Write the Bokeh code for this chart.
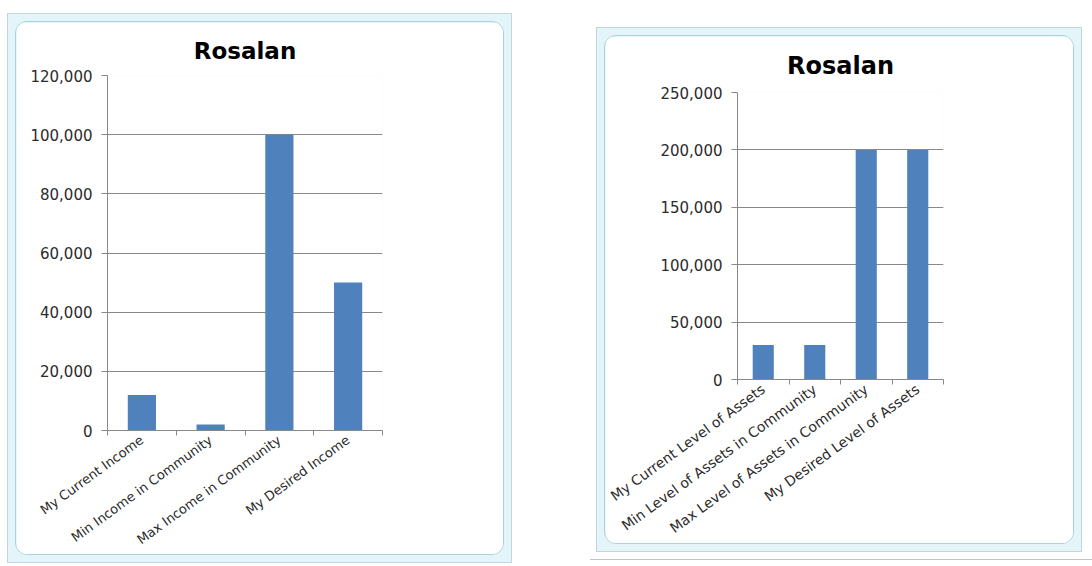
from bokeh.plotting import figure
from bokeh.models import (Range1d, FixedTicker, NumeralTickFormatter, Spacer,
                          ColumnDataSource, LinearAxis, Title)
from bokeh.layouts import row, column
from bokeh.embed import file_html
from bokeh.resources import INLINE

# ---- data ----
title_text = "Rosalan"
income_categories = ["My Current Income", "Min Income in Community",
                     "Max Income in Community", "My Desired Income"]
income_values = [12000, 2000, 100000, 50000]
income_ticks = [0, 20000, 40000, 60000, 80000, 100000, 120000]

asset_categories = ["My Current Level of Assets", "Min Level of Assets in Community",
                    "Max Level of Assets in Community", "My Desired Level of Assets"]
asset_values = [30000, 30000, 200000, 200000]
asset_ticks = [0, 50000, 100000, 150000, 200000, 250000]

BAR = "#4f81bd"
GRID = "#888888"
TXT = "#2b2b2b"


def make_chart(cats, vals, ticks, w, h, bl, br, bt, bb, title_size, title_standoff,
               cat_size, cat_standoff):
    n = len(cats)
    centers = [i + 0.5 for i in range(n)]
    bounds = list(range(n + 1))
    p = figure(x_range=Range1d(0, n), y_range=Range1d(ticks[0], ticks[-1]),
               width=w, height=h, output_backend="svg", toolbar_location=None,
               x_axis_location=None, y_axis_location="left", title=None,
               min_border_left=bl, min_border_right=br, min_border_top=bt, min_border_bottom=bb)
    p.background_fill_color = "white"
    p.border_fill_color = "white"
    p.outline_line_color = None

    ttl = Title(text=title_text, align="center", text_font="DejaVu Sans",
                text_font_style="bold", text_font_size=title_size, text_color="black",
                standoff=title_standoff)
    p.add_layout(ttl, "above")

    src = ColumnDataSource(dict(x=centers, cat=cats, val=vals))
    p.vbar(x="x", top="val", width=0.41, source=src, fill_color=BAR, line_color=None)

    # y axis
    ya = p.yaxis[0]
    ya.ticker = FixedTicker(ticks=ticks)
    ya.formatter = NumeralTickFormatter(format="0,0")
    ya.major_tick_in = 0
    ya.major_tick_out = 6
    ya.minor_tick_in = 0
    ya.minor_tick_out = 0
    ya.axis_line_color = GRID
    ya.major_tick_line_color = GRID
    ya.major_label_text_font = "DejaVu Sans"
    ya.major_label_text_font_size = "15px"
    ya.major_label_text_color = TXT
    ya.major_label_standoff = 9

    p.ygrid.ticker = FixedTicker(ticks=ticks)
    p.ygrid.grid_line_color = GRID
    p.xgrid.grid_line_color = None

    # category axis: labels at bar centres, tick marks at category boundaries
    ca = LinearAxis(ticker=FixedTicker(ticks=centers, minor_ticks=bounds),
                    major_label_overrides={c: name for c, name in zip(centers, cats)},
                    axis_line_color=GRID, major_tick_line_color=None,
                    major_tick_in=0, major_tick_out=0,
                    minor_tick_line_color=GRID, minor_tick_in=0, minor_tick_out=5,
                    major_label_orientation=0.63,
                    major_label_text_font="DejaVu Sans",
                    major_label_text_font_size=cat_size,
                    major_label_text_color=TXT,
                    major_label_standoff=cat_standoff)
    p.add_layout(ca, "below")

    p.styles = {"border": "1px solid #a9d3dc", "border-radius": "12px", "overflow": "hidden"}
    return p


p1 = make_chart(income_categories, income_values, income_ticks,
                489, 534, 91, 123, 53, 125, "23px", 23, "13px", 3)
p2 = make_chart(asset_categories, asset_values, asset_ticks,
                470, 509, 132, 132, 56, 165, "24px", 25, "14px", 3)

frame_style = {"background-color": "#e3f5f8", "border": "1px solid #c3d6da", "padding": "7px"}
f1 = column(p1, styles=frame_style)
f2 = column(p2, styles=frame_style)

page_line = Spacer(width=502, height=1, styles={"background-color": "#c4c4c4"})

root = row(Spacer(width=7), column(Spacer(height=13), f1), Spacer(width=78),
           column(Spacer(height=27), row(Spacer(width=6), f2), Spacer(height=7), page_line))

open("out.html", "w").write(file_html(root, INLINE))
